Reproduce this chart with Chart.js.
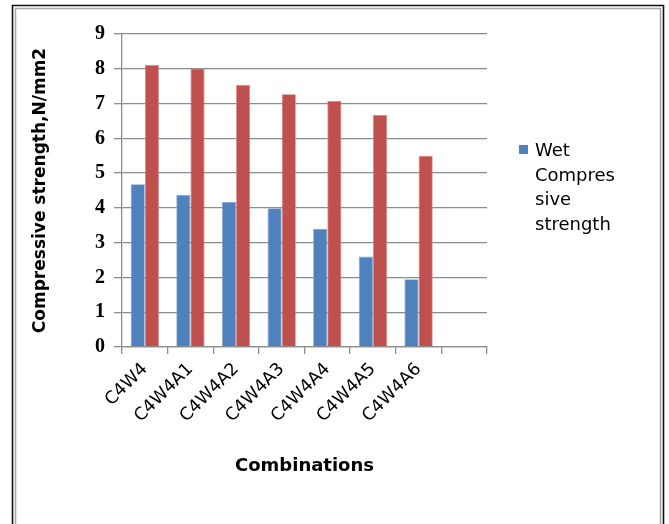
<!DOCTYPE html>
<html>
<head>
<meta charset="utf-8">
<script src="https://cdn.jsdelivr.net/npm/chart.js@4/dist/chart.umd.min.js"></script>
<style>
  html, body { margin: 0; padding: 0; background: #fff; }
  #wrap { width: 669px; height: 524px; position: relative; }
</style>
</head>
<body>
<div id="wrap"><canvas id="c" width="669" height="524"></canvas></div>
<script>
// Mix designations along the x axis (last slot left empty)
const categories = ['C4W4', 'C4W4A1', 'C4W4A2', 'C4W4A3', 'C4W4A4', 'C4W4A5', 'C4W4A6', ''];
// Wet compressive strength, N/mm2
const wetStrength = [4.68, 4.38, 4.17, 3.99, 3.39, 2.60, 1.95, null];
// Second series (red), N/mm2
const dryStrength = [8.11, 8.01, 7.54, 7.27, 7.07, 6.67, 5.50, null];
// Y-axis range and step
const yTicks = { min: 0, max: 9, step: 1 };
// Legend text, wrapped as it is displayed
const legendLines = ['Wet', 'Compres', 'sive', 'strength'];

const BLUE = '#4F81BD';
const RED = '#C0504D';
const GRID = '#8c8c8c';

// Page frame: double border around the chart
const framePlugin = {
  id: 'frame',
  beforeDraw(chart) {
    const ctx = chart.ctx;
    ctx.save();
    ctx.fillStyle = '#fff';
    ctx.fillRect(0, 0, chart.width, chart.height);
    ctx.lineWidth = 1.6;
    ctx.strokeStyle = '#111';
    ctx.beginPath();
    ctx.moveTo(12.5, chart.height + 2);
    ctx.lineTo(12.5, 5.5);
    ctx.lineTo(663.5, 5.5);
    ctx.lineTo(663.5, chart.height + 2);
    ctx.stroke();
    ctx.strokeStyle = '#a8a8a8';
    ctx.lineWidth = 1.6;
    ctx.beginPath();
    ctx.moveTo(15.5, chart.height + 2);
    ctx.lineTo(15.5, 8.5);
    ctx.lineTo(660.5, 8.5);
    ctx.lineTo(660.5, chart.height + 2);
    ctx.stroke();
    ctx.restore();
  }
};

// Legend on the right with wrapped label (only the first series is listed)
const legendPlugin = {
  id: 'wrappedLegend',
  afterDraw(chart) {
    const ctx = chart.ctx;
    const area = chart.chartArea;
    const x = area.right + 32;
    const y0 = area.top + 111;
    ctx.save();
    ctx.fillStyle = chart.data.datasets[0].backgroundColor;
    ctx.fillRect(x, y0, 9, 9);
    ctx.fillStyle = '#000';
    ctx.font = '18px "DejaVu Sans"';
    ctx.textBaseline = 'alphabetic';
    legendLines.forEach((line, i) => {
      ctx.fillText(line, x + 16, y0 + 11 + i * 24.5);
    });
    ctx.restore();
  }
};

new Chart(document.getElementById('c'), {
  type: 'bar',
  data: {
    labels: categories,
    datasets: [
      {
        label: 'Wet Compressive strength',
        data: wetStrength,
        backgroundColor: BLUE,
        borderColor: '#7fa3d3',
        borderWidth: 0.8
      },
      {
        label: 'Compressive strength',
        data: dryStrength,
        backgroundColor: RED,
        borderColor: '#d98583',
        borderWidth: 0.8
      }
    ]
  },
  options: {
    responsive: false,
    animation: false,
    devicePixelRatio: 1,
    datasets: { bar: { categoryPercentage: 0.62, barPercentage: 1.0 } },
    layout: { padding: { left: 14, right: 182, top: 34, bottom: 0 } },
    plugins: {
      legend: { display: false },
      tooltip: { enabled: false }
    },
    scales: {
      x: {
        offset: true,
        grid: { offset: true, drawOnChartArea: false, tickLength: 7, color: GRID, lineWidth: 1.3 },
        border: { color: GRID, width: 1.3 },
        ticks: {
          autoSkip: false, minRotation: 45, maxRotation: 45, padding: 5,
          color: '#000', font: { family: 'DejaVu Sans', size: 17.5 }
        },
        title: {
          display: true, text: 'Combinations', color: '#000',
          font: { family: 'DejaVu Sans', size: 18, weight: 'bold' },
          padding: { top: 0, bottom: 47 }
        },
        afterFit(s) { s.height = 524 - 347; }
      },
      y: {
        min: yTicks.min, max: yTicks.max,
        grid: { color: GRID, lineWidth: 1.3, tickLength: 8 },
        border: { color: GRID, width: 1.3 },
        ticks: {
          stepSize: yTicks.step, padding: 9, color: '#000',
          font: { family: 'Liberation Serif', size: 20, weight: 'bold' }
        },
        title: {
          display: true, text: 'Compressive strength,N/mm2', color: '#000',
          font: { family: 'DejaVu Sans', size: 17, weight: 'bold' },
          padding: { top: 16, bottom: 0 }
        },
        afterFit(s) { s.width = 122 - 14; }
      }
    }
  },
  plugins: [framePlugin, legendPlugin]
});
</script>
</body>
</html>
